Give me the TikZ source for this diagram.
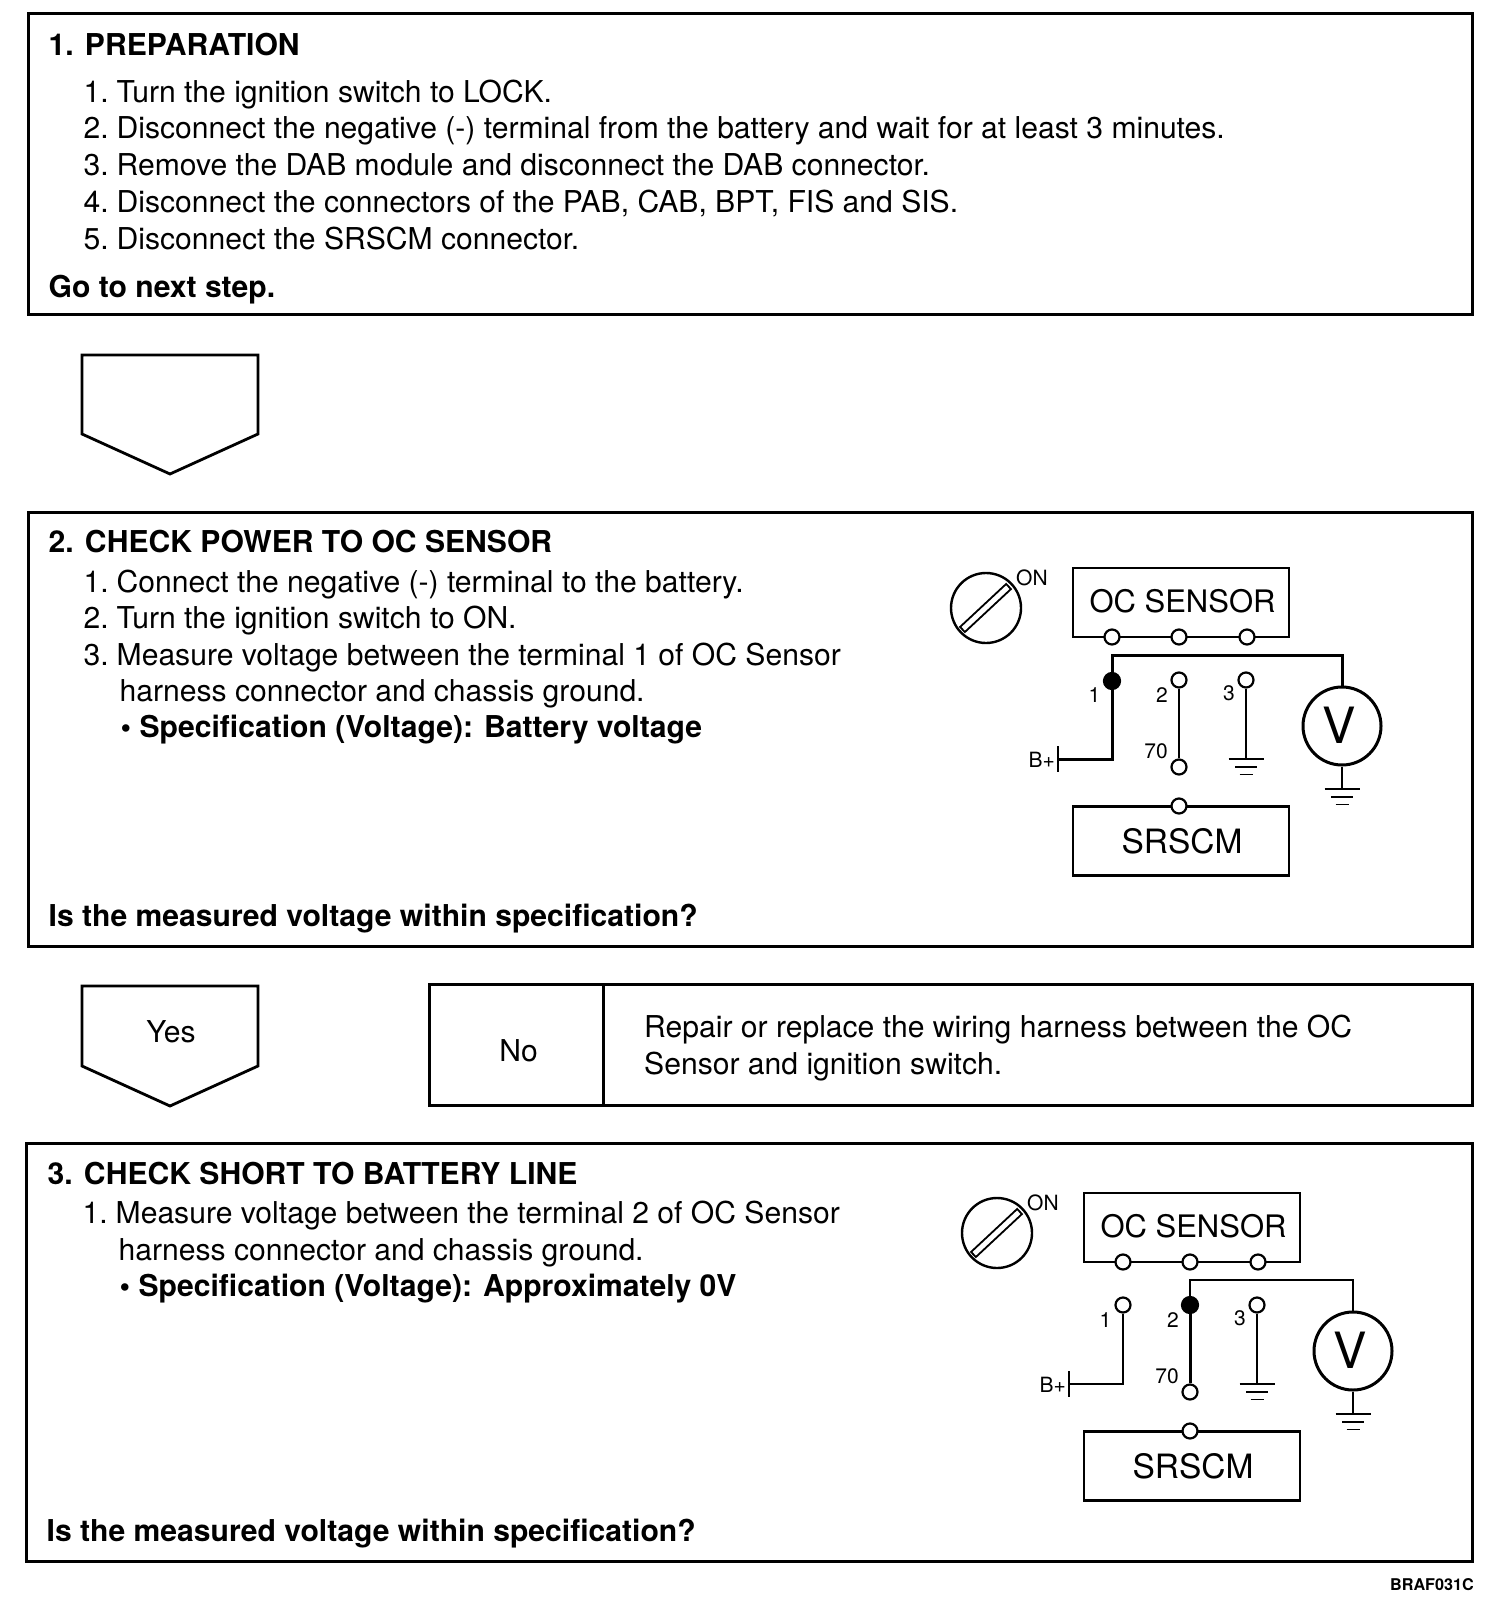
\documentclass[tikz,border=0pt]{standalone}
\usepackage{fontspec}
\setmainfont{TeX Gyre Heros}
\usetikzlibrary{calc}
\tikzset{
  panel/.style={draw,line width=3pt,rectangle,inner sep=0pt},
  cell/.style={draw,line width=3pt,rectangle,inner sep=0pt},
  txt/.style={anchor=base west,inner sep=0pt,font=\fontsize{30.1}{34}\selectfont},
  btxt/.style={anchor=base west,inner sep=0pt,font=\fontsize{30.1}{34}\selectfont\bfseries},
  ctxt/.style={inner sep=0pt,font=\fontsize{30.1}{34}\selectfont},
  tag/.style={inner sep=0pt,font=\fontsize{21}{24}\selectfont},
  unit/.style={draw,line width=2.4pt,rectangle,inner sep=0pt,minimum width=216pt,minimum height=69pt},
  term/.style={draw,line width=2.2pt,circle,fill=white,inner sep=0pt,minimum size=15pt},
  termon/.style={draw,line width=2.2pt,circle,fill=black,inner sep=0pt,minimum size=16pt},
  wire/.style={line width=2.4pt},
  wirebold/.style={line width=3pt},
  meter/.style={draw,line width=3pt,circle,inner sep=0pt,minimum size=78pt},
  knob/.style={draw,line width=2.4pt,circle,inner sep=0pt,minimum size=70pt},
  slot/.style={draw,line width=1.8pt,rectangle,inner sep=0pt,minimum width=63pt,minimum height=7pt,rotate=43},
  drop/.style={line width=2.8pt,line join=miter},
}
% ground symbol: #1 = name of the coordinate at the top bar
\newcommand{\gndsym}[1]{%
  \draw[wire] ($(#1)+(-17.5,0)$) -- ($(#1)+(17.5,0)$);
  \draw[line width=1.8pt] ($(#1)+(-11,8)$) -- ($(#1)+(11,8)$);
  \draw[line width=1.8pt] ($(#1)+(-6.5,15.5)$) -- ($(#1)+(6.5,15.5)$);
}
% common parts of a circuit: #1 = prefix
\newcommand{\circuitparts}[1]{%
  \node[knob] (#1knob) at (986,608) {};
  \node[slot] (#1slot) at (985.5,608) {};
  \node[tag,anchor=base west] (#1on) at (1016,585) {ON};
  \node[unit] (#1oc) at (1181,602.5) {};
  \node[inner sep=0pt,font=\fontsize{31}{36}\selectfont] (#1oct) at (1182.5,601.5) {OC SENSOR};
  \node[term] (#1ta) at (1112,637) {};
  \node[term] (#1tb) at (1179,637) {};
  \node[term] (#1tc) at (1247,637) {};
  \node[unit] (#1sr) at (1181,841) {};
  \node[inner sep=0pt,font=\fontsize{33.5}{38}\selectfont] (#1srt) at (1182,841.5) {SRSCM};
  \node[term] (#1ts) at (1179,806) {};
  \node[term] (#1b) at (1179,767) {};
  \node[term] (#1c) at (1246,680) {};
  \node[meter] (#1v) at (1342,726) {};
  \node[inner sep=0pt,font=\fontsize{50}{56}\selectfont] (#1vt) at (1339,725) {V};
  \node[tag,anchor=base east] (#1l1) at (1100.5,702) {1};
  \node[tag,anchor=base east] (#1l2) at (1168,702) {2};
  \node[tag,anchor=base east] (#1l3) at (1235,700) {3};
  \node[tag,anchor=base east] (#1l70) at (1168,758) {70};
  \node[tag,anchor=base east] (#1lb) at (1055,767) {B+};
  \coordinate (#1gc) at (1246,759);
  \coordinate (#1gv) at (1342,789);
  \coordinate (#1bar) at (1058,759);
  \draw[wire] ($(#1bar)+(0,-13)$) -- ($(#1bar)+(0,13)$);
  \draw[wire] (#1c) -- (#1gc);
  \gndsym{#1gc}
  \draw[wire] (#1v) -- (#1gv);
  \gndsym{#1gv}
}
\begin{document}
\begin{tikzpicture}[x=1pt,y=-1pt]
\useasboundingbox (0,0) rectangle (1504,1616);
\fill[white] (0,0) rectangle (1504,1616);

% Step 1
\node[panel,minimum width=1444pt,minimum height=300pt] (box1) at (750,164) {};
\node[btxt] (h1) at (48.5,55.5) {1. PREPARATION};
\node[txt] (a1n) at (83.5,103) {1.};
\node[txt] (a1t) at (116.5,103) {Turn the ignition switch to LOCK.};
\node[txt] (a2n) at (83.5,139) {2.};
\node[txt] (a2t) at (116.5,139) {Disconnect the negative (-) terminal from the battery and wait for at least 3 minutes.};
\node[txt] (a3n) at (83.5,175.5) {3.};
\node[txt] (a3t) at (116.5,175.5) {Remove the DAB module and disconnect the DAB connector.};
\node[txt] (a4n) at (83.5,212) {4.};
\node[txt] (a4t) at (116.5,212) {Disconnect the connectors of the PAB, CAB, BPT, FIS and SIS.};
\node[txt] (a5n) at (83.5,249) {5.};
\node[txt] (a5t) at (116.5,249) {Disconnect the SRSCM connector.};
\node[btxt] (g1) at (48.5,297) {Go to next step.};

% Arrow 1
\draw[drop] (82,355) -- (258,355) -- (258,434) -- (170,474) -- (82,434) -- cycle;

% Step 2
\node[panel,minimum width=1444pt,minimum height=434pt] (box2) at (750,729) {};
\node[btxt] (h2) at (48.5,552.5) {2. CHECK POWER TO OC SENSOR};
\node[txt] (b1n) at (83.5,592.5) {1.};
\node[txt] (b1t) at (116.5,592.5) {Connect the negative (-) terminal to the battery.};
\node[txt] (b2n) at (83.5,628.5) {2.};
\node[txt] (b2t) at (116.5,628.5) {Turn the ignition switch to ON.};
\node[txt] (b3n) at (83.5,665) {3.};
\node[txt] (b3t) at (116.5,665) {Measure voltage between the terminal 1 of OC Sensor};
\node[txt] (b3u) at (119.5,701) {harness connector and chassis ground.};
\node[btxt] (b3s) at (120.5,737) {• Specification (Voltage): Battery voltage};
\node[btxt] (q2) at (48.5,926) {Is the measured voltage within specification?};

% Circuit 2
\begin{scope}
  \circuitparts{p}
  \node[termon] (pa) at (1112,681) {};
  \coordinate (pwl) at (1112,655);
  \coordinate (pwr) at (1342,655);
  \coordinate (pcn) at (1112,759);
  \draw[wirebold] (pa) -- (pwl) -- (pwr) -- (pv);
  \draw[wirebold] (pa) -- (pcn) -- (pbar);
  \node[term] (pd) at (1179,680) {};
  \draw[wire] (pd) -- (pb);
\end{scope}

% Arrow 2
\draw[drop] (82,986) -- (258,986) -- (258,1066) -- (170,1106) -- (82,1066) -- cycle;
\node[ctxt] (yes) at (171,1032) {Yes};

% No panel
\node[cell,minimum width=174pt,minimum height=121pt] (no) at (516,1044.5) {};
\node[ctxt] (not) at (518.5,1051) {No};
\node[cell,minimum width=869pt,minimum height=121pt] (rep) at (1037.5,1044.5) {};
\node[txt] (r1) at (644,1037) {Repair or replace the wiring harness between the OC};
\node[txt] (r2) at (644,1074) {Sensor and ignition switch.};

% Step 3
\node[panel,minimum width=1446pt,minimum height=418pt] (box3) at (749,1352) {};
\node[btxt] (h3) at (47.5,1184) {3. CHECK SHORT TO BATTERY LINE};
\node[txt] (c1n) at (82.5,1223.5) {1.};
\node[txt] (c1t) at (115.5,1223.5) {Measure voltage between the terminal 2 of OC Sensor};
\node[txt] (c1u) at (118.5,1260.5) {harness connector and chassis ground.};
\node[btxt] (c1s) at (119.5,1296.5) {• Specification (Voltage): Approximately 0V};
\node[btxt] (q3) at (46.5,1541) {Is the measured voltage within specification?};

% Circuit 3
\begin{scope}[shift={(11,625)}]
  \circuitparts{q}
  \node[term] (qa) at (1112,680) {};
  \coordinate (qcn) at (1112,759);
  \draw[wire] (qa) -- (qcn) -- (qbar);
  \node[termon] (qd) at (1179,680) {};
  \coordinate (qwl) at (1179,655);
  \coordinate (qwr) at (1342,655);
  \draw[wire] (qd) -- (qwl) -- (qwr) -- (qv);
  \draw[wirebold] (qd) -- (qb);
\end{scope}

\node[anchor=base east,inner sep=0pt,font=\fontsize{16.2}{18}\selectfont\bfseries] (code) at (1474,1590) {BRAF031C};
\end{tikzpicture}
\end{document}
